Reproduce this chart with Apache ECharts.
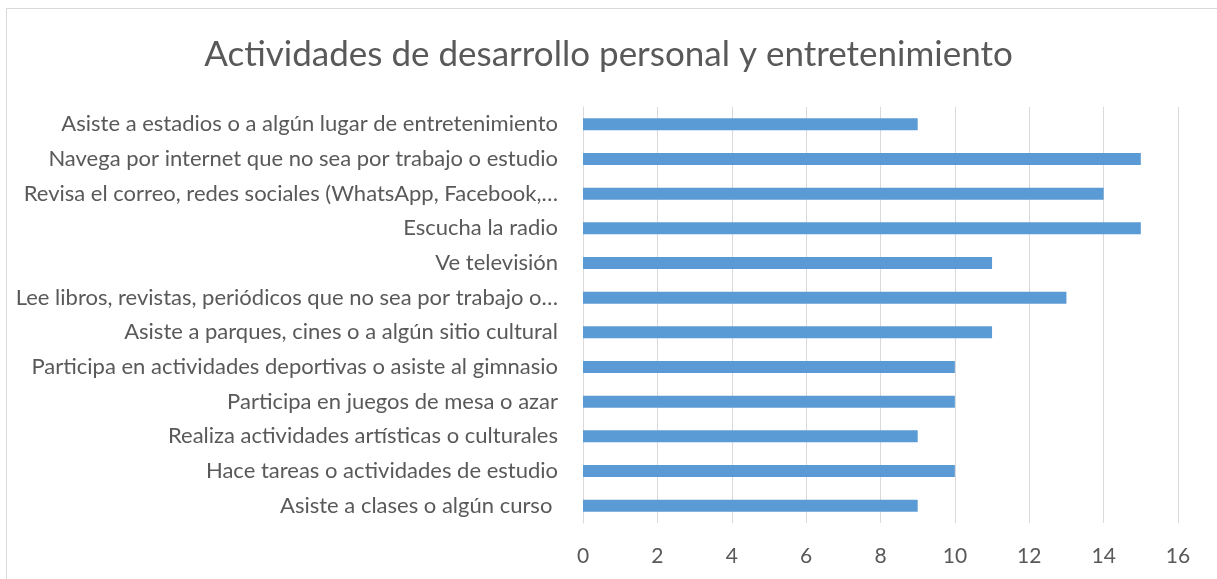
<!DOCTYPE html>
<html>
<head>
<meta charset="utf-8">
<script src="https://cdn.jsdelivr.net/npm/echarts@6/dist/echarts.min.js"></script>
<style>
  html, body { margin: 0; padding: 0; background: #fff; overflow: hidden; }
  #frame {
    position: absolute; left: 6px; top: 8px; width: 1230px; height: 590px;
    border: 1px solid #d9d9d9; box-sizing: border-box;
  }
  #chart { position: absolute; left: 0; top: 0; width: 1217px; height: 579px; }
</style>
</head>
<body>
<div id="frame"></div>
<div id="chart"></div>
<script>
// categories listed bottom to top, as the category axis draws them
const categories = [
  'Asiste a clases o algún curso ',
  'Hace tareas o actividades de estudio',
  'Realiza actividades artísticas o culturales',
  'Participa en juegos de mesa o azar',
  'Participa en actividades deportivas o asiste al gimnasio',
  'Asiste a parques, cines o a algún sitio cultural',
  'Lee libros, revistas, periódicos que no sea por trabajo o…',
  'Ve televisión',
  'Escucha la radio',
  'Revisa el correo, redes sociales (WhatsApp, Facebook,…',
  'Navega por internet que no sea por trabajo o estudio',
  'Asiste a estadios o a algún lugar de entretenimiento'
]
const values = [9, 10, 9, 10, 10, 11, 13, 11, 15, 14, 15, 9]

const chart = echarts.init(document.getElementById('chart'))

const option = {
  animation: false,
  textStyle: { fontFamily: 'Lato' },
  title: {
    text: 'Actividades de desarrollo personal y entretenimiento',
    left: 'center',
    top: 32,
    textStyle: {
      fontFamily: 'Lato',
      fontSize: 35,
      fontWeight: 'normal',
      color: '#595959'
    }
  },
  grid: {
    left: 583,
    right: 39,
    top: 107,
    bottom: 56
  },
  xAxis: {
    type: 'value',
    min: 0,
    max: 16,
    interval: 2,
    axisLine: { show: false },
    axisTick: { show: false },
    splitLine: { lineStyle: { color: '#d9d9d9', width: 1 } },
    axisLabel: { color: '#595959', fontSize: 21, margin: 23 }
  },
  yAxis: {
    type: 'category',
    data: categories,
    axisLine: { show: true, lineStyle: { color: '#d9d9d9' } },
    axisTick: { show: false },
    axisLabel: { color: '#595959', fontSize: 22, margin: 25 }
  },
  series: [
    {
      type: 'bar',
      data: values,
      barWidth: 12,
      itemStyle: { color: '#5b9bd5' }
    }
  ]
}

chart.setOption(option)
</script>
</body>
</html>
